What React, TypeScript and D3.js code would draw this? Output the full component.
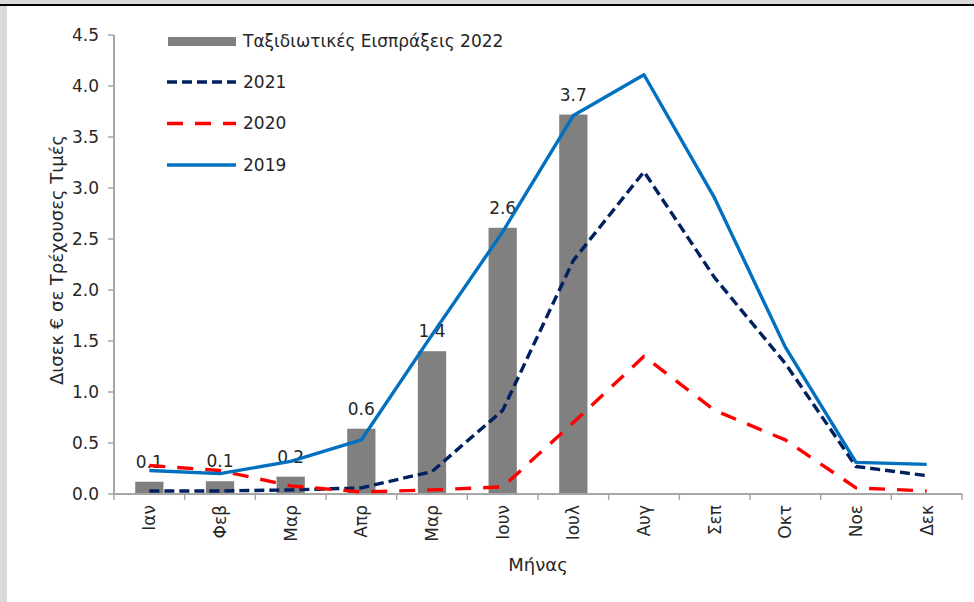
import React from "react";
import * as d3 from "d3";

const months = ["Ιαν", "Φεβ", "Μαρ", "Απρ", "Μαρ ", "Ιουν", "Ιουλ", "Αυγ", "Σεπ", "Οκτ", "Νοε", "Δεκ"];
const monthLabels = ["Ιαν", "Φεβ", "Μαρ", "Απρ", "Μαρ", "Ιουν", "Ιουλ", "Αυγ", "Σεπ", "Οκτ", "Νοε", "Δεκ"];
const receipts2022: (number | null)[] = [0.12, 0.125, 0.17, 0.64, 1.4, 2.61, 3.72, null, null, null, null, null];
const s2021 = [0.03, 0.03, 0.04, 0.06, 0.22, 0.82, 2.29, 3.16, 2.12, 1.28, 0.27, 0.18];
const s2020 = [0.28, 0.23, 0.08, 0.02, 0.04, 0.07, 0.7, 1.35, 0.82, 0.53, 0.06, 0.03];
const s2019 = [0.23, 0.2, 0.32, 0.53, 1.56, 2.57, 3.71, 4.11, 2.9, 1.44, 0.31, 0.29];
const yTicks = [0, 0.5, 1.0, 1.5, 2.0, 2.5, 3.0, 3.5, 4.0, 4.5];

const W = 974, H = 602;
const FONT = "'DejaVu Sans', sans-serif";
const TXT = "#262626";
const AXIS = "#A6A6A6";

export default function App() {
  const x = d3.scaleBand<string>().domain(months).range([114, 962]).paddingInner(0).paddingOuter(0);
  const y = d3.scaleLinear().domain([0, 4.5]).range([494, 35]);
  const bw = x.bandwidth() * 0.4;
  const cx = (i: number) => (x(months[i]) as number) + x.bandwidth() / 2;

  const line = d3.line<number>().x((_, i) => cx(i)).y((d) => y(d));

  const series = [
    { name: "2021", data: s2021, color: "#002060", dash: "10,5", width: 3.4 },
    { name: "2020", data: s2020, color: "#FF0000", dash: "16,12", width: 3.4 },
    { name: "2019", data: s2019, color: "#0070C0", dash: undefined, width: 3.4 },
  ];

  return (
    <div style={{ position: "absolute", left: 0, top: 0 }}>
      <svg width={W} height={H} style={{ display: "block", background: "#fff" }}>
        {/* frame */}
        <rect x={0} y={0} width={W} height={5} fill="#D9D9D9" />
        <rect x={0} y={4} width={W} height={2} fill="#000" />
        <rect x={0} y={6} width={7} height={H - 6} fill="#D9D9D9" />

        {/* bars */}
        {receipts2022.map((v, i) =>
          v == null ? null : (
            <rect key={"b" + i} x={cx(i) - bw / 2} y={y(v)} width={bw} height={y(0) - y(v)} fill="#808080" />
          )
        )}
        {receipts2022.map((v, i) =>
          v == null ? null : (
            <text key={"bl" + i} x={cx(i)} y={y(v) - 14} textAnchor="middle" fontFamily={FONT} fontSize={17} fill={TXT}>
              {v.toFixed(1)}
            </text>
          )
        )}

        {/* axes */}
        <line x1={114} x2={114} y1={y(4.5)} y2={y(0)} stroke={AXIS} strokeWidth={2} />
        {yTicks.map((t) => (
          <g key={"yt" + t}>
            <line x1={108} x2={114} y1={y(t)} y2={y(t)} stroke={AXIS} strokeWidth={1.5} />
            <text x={99} y={y(t)} dy="0.35em" textAnchor="end" fontFamily={FONT} fontSize={17} fill={TXT}>
              {t.toFixed(1)}
            </text>
          </g>
        ))}
        <line x1={113} x2={962} y1={y(0)} y2={y(0)} stroke={AXIS} strokeWidth={2} />
        {d3.range(13).map((k) => {
          const xx = 114 + k * x.bandwidth();
          return <line key={"xt" + k} x1={xx} x2={xx} y1={y(0)} y2={y(0) + 6} stroke={AXIS} strokeWidth={1.5} />;
        })}
        {monthLabels.map((m, i) => (
          <text
            key={"xl" + i}
            transform={`translate(${cx(i)},${y(0) + 11}) rotate(-90)`}
            textAnchor="end"
            dy="0.35em"
            fontFamily={FONT}
            fontSize={17}
            fill={TXT}
          >
            {m}
          </text>
        ))}

        {/* lines */}
        {series.map((s) => (
          <path
            key={s.name}
            d={line(s.data) as string}
            fill="none"
            stroke={s.color}
            strokeWidth={s.width}
            strokeDasharray={s.dash}
            strokeLinejoin="round"
          />
        ))}

        {/* axis titles */}
        <text transform={`translate(57,260) rotate(-90)`} textAnchor="middle" dy="0.35em" fontFamily={FONT} fontSize={18} fill={TXT}>
          Δισεκ € σε Τρέχουσες Τιμές
        </text>
        <text x={538} y={565} textAnchor="middle" dy="0.35em" fontFamily={FONT} fontSize={18} fill={TXT}>
          Μήνας
        </text>

        {/* legend */}
        <rect x={168} y={37} width={68} height={9} fill="#808080" />
        <text x={243} y={41} dy="0.35em" fontFamily={FONT} fontSize={17} fill={TXT}>
          Ταξιδιωτικές Εισπράξεις 2022
        </text>
        {series.map((s, i) => {
          const ly = 82 + i * 41.5;
          return (
            <g key={"lg" + s.name}>
              <line x1={167} x2={236} y1={ly} y2={ly} stroke={s.color} strokeWidth={s.width} strokeDasharray={s.dash} />
              <text x={243} y={ly} dy="0.35em" fontFamily={FONT} fontSize={17} fill={TXT}>
                {s.name}
              </text>
            </g>
          );
        })}
      </svg>
    </div>
  );
}
